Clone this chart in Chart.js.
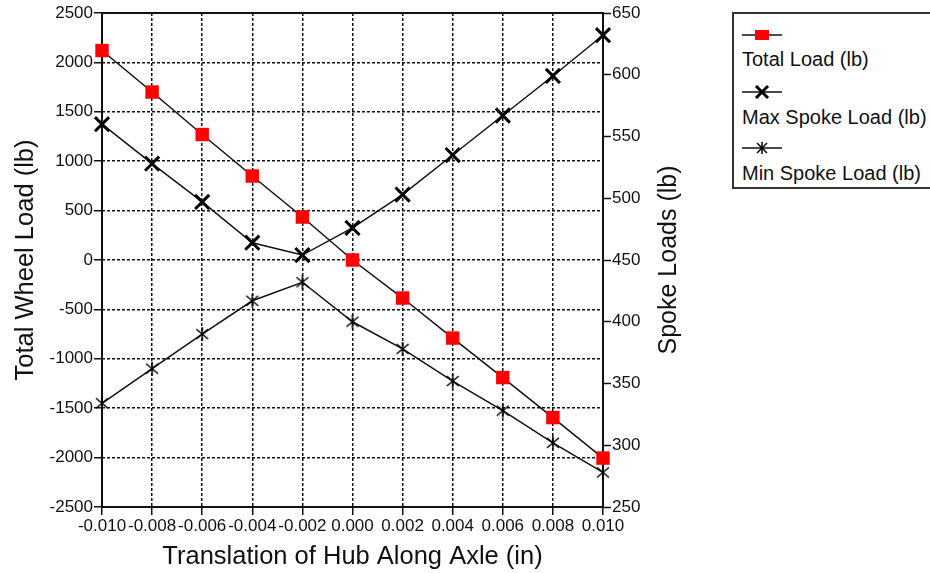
<!DOCTYPE html>
<html>
<head>
<meta charset="utf-8">
<script src="https://cdn.jsdelivr.net/npm/chart.js@4/dist/chart.umd.min.js"></script>
<style>
  html, body { margin: 0; padding: 0; background: #fff; overflow: hidden; }
  #wrap { position: relative; width: 930px; height: 573px; }
  #chart { position: absolute; left: 0; top: 0; }
  #legend {
    position: absolute; left: 732px; top: 12px; width: 220px; height: 177px;
    border: 2px solid #333; box-sizing: border-box; background: #fff;
    font-family: "Liberation Sans", Arial, sans-serif; font-size: 20px; color: #111;
  }
  #legend .sym { position: absolute; left: 7px; }
  #legend .txt { position: absolute; left: 8px; line-height: 24px; white-space: nowrap; }
</style>
</head>
<body>
<div id="wrap">
  <canvas id="chart" width="930" height="573"></canvas>
  <div id="legend">
    <svg class="sym" style="top:14px" width="42" height="14">
      <line x1="1" y1="7" x2="41" y2="7" stroke="#111" stroke-width="1.5"/>
      <rect x="14" y="2" width="14" height="10" fill="#f00"/>
    </svg>
    <div class="txt" style="top:33px">Total Load (lb)</div>
    <svg class="sym" style="top:70px" width="42" height="16">
      <line x1="1" y1="8" x2="41" y2="8" stroke="#111" stroke-width="1.5"/>
      <line x1="15" y1="2" x2="27" y2="14" stroke="#000" stroke-width="3"/>
      <line x1="27" y1="2" x2="15" y2="14" stroke="#000" stroke-width="3"/>
    </svg>
    <div class="txt" style="top:91px">Max Spoke Load (lb)</div>
    <svg class="sym" style="top:126px" width="42" height="16">
      <line x1="1" y1="8" x2="41" y2="8" stroke="#111" stroke-width="1.5"/>
      <line x1="16" y1="3" x2="26" y2="13" stroke="#000" stroke-width="1.5"/>
      <line x1="26" y1="3" x2="16" y2="13" stroke="#000" stroke-width="1.5"/>
      <line x1="21" y1="2" x2="21" y2="14" stroke="#000" stroke-width="1.5"/>
    </svg>
    <div class="txt" style="top:147px">Min Spoke Load (lb)</div>
  </div>
</div>
<script>
// === Data ===
const xValues = [-0.010, -0.008, -0.006, -0.004, -0.002, 0.000, 0.002, 0.004, 0.006, 0.008, 0.010];
const xTickLabels = ['-0.010', '-0.008', '-0.006', '-0.004', '-0.002', '0.000', '0.002', '0.004', '0.006', '0.008', '0.010'];
const totalLoad = [2120, 1700, 1270, 850, 435, 0, -385, -790, -1190, -1595, -2005];
const maxSpokeLoad = [560, 528, 497, 464, 454, 476, 503, 535, 567, 599, 632];
const minSpokeLoad = [334, 362, 390, 417, 432, 400, 378, 352, 328, 302, 278];
const leftTicks = [-2500, -2000, -1500, -1000, -500, 0, 500, 1000, 1500, 2000, 2500];
const rightTicks = [250, 300, 350, 400, 450, 500, 550, 600, 650];

const FONT = '"Liberation Sans", Arial, sans-serif';
Chart.defaults.font.family = FONT;
Chart.defaults.color = '#111';

// asterisk marker (x plus vertical bar) for min spoke load
function makeAsterisk() {
  const c = document.createElement('canvas');
  c.width = 16; c.height = 16;
  const g = c.getContext('2d');
  g.strokeStyle = '#000'; g.lineWidth = 1.5;
  g.beginPath();
  g.moveTo(2, 3); g.lineTo(14, 13);
  g.moveTo(14, 3); g.lineTo(2, 13);
  g.moveTo(8, 1); g.lineTo(8, 15);
  g.stroke();
  return c;
}

const pts = arr => arr.map((v, i) => ({ x: xValues[i], y: v }));

// solid plot frame + right axis title (reads bottom-to-top)
const framePlugin = {
  id: 'frame',
  beforeDatasetsDraw(chart) {
    const { ctx, chartArea: a } = chart;
    ctx.save();
    ctx.strokeStyle = '#111';
    ctx.lineWidth = 2;
    ctx.strokeRect(a.left, a.top, a.right - a.left, a.bottom - a.top);
    ctx.restore();
  },
  afterDraw(chart) {
    const { ctx, chartArea: a } = chart;
    ctx.save();
    ctx.translate(669, (a.top + a.bottom) / 2);
    ctx.rotate(-Math.PI / 2);
    ctx.font = '25px ' + FONT;
    ctx.fillStyle = '#111';
    ctx.textAlign = 'center';
    ctx.textBaseline = 'middle';
    ctx.fillText('Spoke Loads (lb)', 0, 0);
    ctx.restore();
  }
};

const gridOpts = {
  color: '#111', lineWidth: 1.5,
  tickColor: '#111', tickWidth: 1.5, tickBorderDash: []
};
const borderOpts = { display: false, dash: [3, 2] };

new Chart(document.getElementById('chart'), {
  type: 'line',
  data: {
    datasets: [
      {
        label: 'Total Load (lb)', data: pts(totalLoad), yAxisID: 'y', clip: false,
        borderColor: '#111', borderWidth: 1.5,
        pointStyle: 'rect', pointRadius: 9.5, pointBackgroundColor: '#f00', pointBorderWidth: 0
      },
      {
        label: 'Max Spoke Load (lb)', data: pts(maxSpokeLoad), yAxisID: 'y1', clip: false,
        borderColor: '#111', borderWidth: 1.5,
        pointStyle: 'crossRot', pointRadius: 10, pointBorderColor: '#000', pointBorderWidth: 3
      },
      {
        label: 'Min Spoke Load (lb)', data: pts(minSpokeLoad), yAxisID: 'y1', clip: false,
        borderColor: '#111', borderWidth: 1.5,
        pointStyle: makeAsterisk(), pointRadius: 8
      }
    ]
  },
  options: {
    responsive: false,
    animation: false,
    layout: { padding: { left: 0, top: 12, right: 267, bottom: 0 } },
    plugins: { legend: { display: false }, tooltip: { enabled: false } },
    scales: {
      x: {
        type: 'linear', min: -0.010, max: 0.010,
        afterBuildTicks: s => { s.ticks = xValues.map(v => ({ value: v })); },
        afterFit: s => { s.height = 66; },
        grid: { ...gridOpts, tickLength: 8 },
        border: borderOpts,
        ticks: { font: { size: 17 }, padding: 1, maxRotation: 0, autoSkip: false,
                 callback: (v, i) => xTickLabels[i] },
        title: { display: true, text: 'Translation of Hub Along Axle (in)',
                 font: { size: 25.5 }, padding: { top: 0, bottom: 1 } }
      },
      y: {
        position: 'left', min: -2500, max: 2500,
        afterBuildTicks: s => { s.ticks = leftTicks.map(v => ({ value: v })); },
        afterFit: s => { s.width = 102; },
        grid: { ...gridOpts, tickLength: 8 },
        border: borderOpts,
        ticks: { font: { size: 17 }, padding: 1, callback: v => String(v) },
        title: { display: true, text: 'Total Wheel Load (lb)',
                 font: { size: 25.5 }, padding: { top: 11, bottom: 0 } }
      },
      y1: {
        position: 'right', min: 250, max: 650,
        afterBuildTicks: s => { s.ticks = rightTicks.map(v => ({ value: v })); },
        afterFit: s => { s.width = 60; },
        grid: { drawOnChartArea: false, tickLength: 8, tickColor: '#111', tickWidth: 1.5 },
        border: { display: false },
        ticks: { font: { size: 17 }, padding: 1, callback: v => String(v) }
      }
    }
  },
  plugins: [framePlugin]
});
</script>
</body>
</html>
